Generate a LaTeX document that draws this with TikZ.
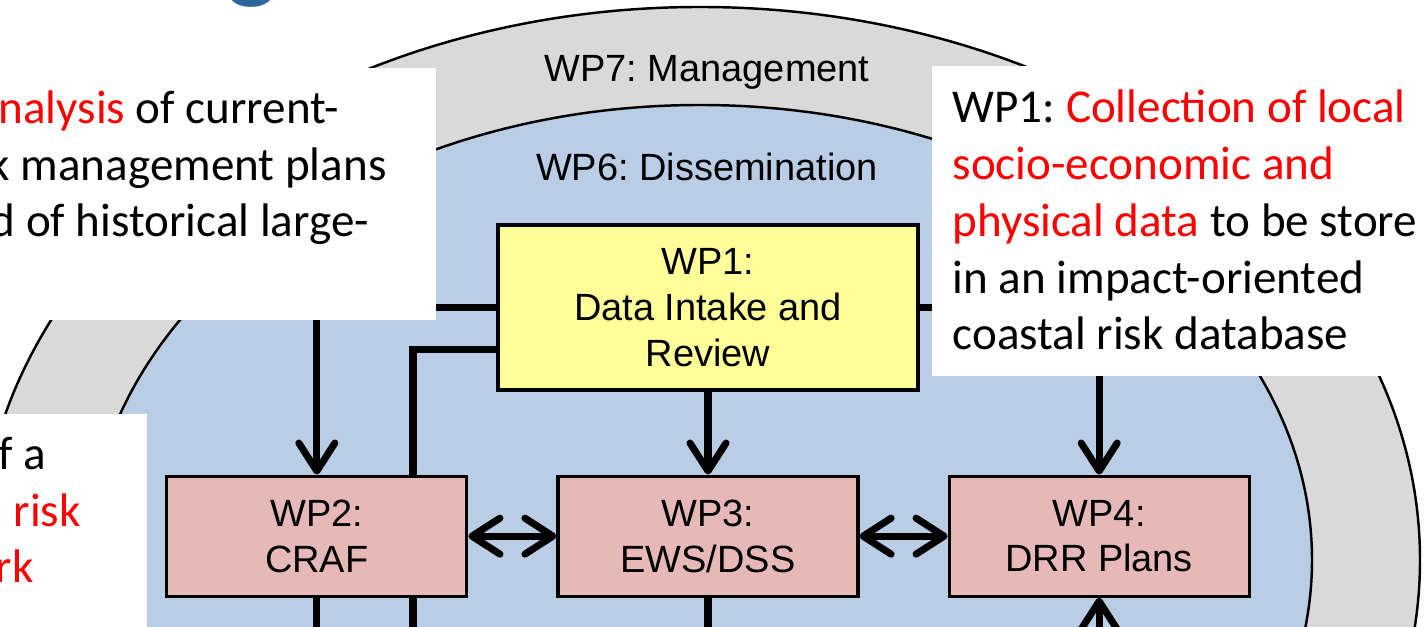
\documentclass[tikz,border=0pt]{standalone}
\usepackage{fontspec}
\setmainfont{Liberation Sans}
\newfontfamily\notefont{Carlito}
\usepackage{xcolor}
\usepackage{tikz}
\usetikzlibrary{arrows.meta, positioning, backgrounds}
\definecolor{ringgray}{RGB}{217,217,217}
\definecolor{ringblue}{RGB}{185,205,229}
\definecolor{intakeyellow}{RGB}{255,255,153}
\definecolor{wppink}{RGB}{230,185,184}
\definecolor{titleblue}{RGB}{47,101,157}
\frenchspacing
\tikzset{
  wpbox/.style={
    draw=black,
    line width=0.9pt,
    fill=wppink,
    align=center,
    inner sep=2pt,
    minimum width=30mm,
    minimum height=12mm,
    font=\fontsize{10.8}{13}\selectfont
  },
  ringlabel/.style={
    anchor=base,
    inner sep=0pt,
    font=\fontsize{10.8}{13}\selectfont
  },
  notebox/.style={
    fill=white,
    inner sep=0pt,
    anchor=north west
  },
  notetext/.style={
    align=left,
    inner sep=0pt,
    anchor=base west,
    font=\notefont\fontsize{13.4}{16.2}\selectfont
  },
  arrow/.style={-{Straight Barb[length=2.8mm, width=3.6mm, round]}, line width=2pt},
  twoway/.style={{Straight Barb[length=2.8mm, width=3.6mm, round]}-{Straight Barb[length=2.8mm, width=3.6mm, round]}, line width=2pt},
  link/.style={line width=2pt}
}

\begin{document}
\begin{tikzpicture}[node distance=8.3mm and 8.8mm]
\useasboundingbox (0,0) rectangle (14.26,6.27);
\clip (0,0) rectangle (14.26,6.27);

\node[wpbox, fill=intakeyellow, minimum width=42mm, minimum height=16.5mm] (wp1) at (7.08,3.195) {WP1:\\Data Intake and\\Review};
\node[wpbox, below=of wp1] (wp3) {WP3:\\EWS/DSS};
\node[wpbox, left=of wp3] (wp2) {WP2:\\CRAF};
\node[wpbox, right=of wp3] (wp4) {WP4:\\DRR Plans};

\coordinate (bypass) at (4.13,-0.3);
\coordinate[below=5mm of wp2] (craf-out);
\coordinate[below=5mm of wp3] (ews-out);
\coordinate[below=5mm of wp4] (drr-in);

\begin{scope}[on background layer]
% WP7 / WP6 rings
\draw[fill=ringgray, line width=0.7pt] (7.00,0.67) ellipse [x radius=7.20, y radius=5.53];
\draw[fill=ringblue, line width=0.7pt] (7.00,0.67) ellipse [x radius=6.12, y radius=4.55];

\draw[arrow] (wp1.west) -| (wp2.north);
\draw[link] ([yshift=-4.2mm]wp1.west) -| (bypass);
\draw[arrow] (wp1.east) -| (wp4.north);
\draw[arrow] (wp1) -- (wp3);

\draw[twoway] (wp2) -- (wp3);
\draw[twoway] (wp3) -- (wp4);

\draw[link] (wp2.south) -- (craf-out);
\draw[link] (wp3.south) -- (ews-out);
\draw[arrow] (drr-in) -- (wp4.south);
\end{scope}

\node[ringlabel] (wp7) at (7.07,5.45) {WP7: Management};
\node[ringlabel] (wp6) at (7.07,4.46) {WP6: Dissemination};

% notes laid over the diagram
\node[notebox, minimum width=44.5mm, minimum height=25.2mm] (notea) at (-0.1,5.60) {};
\node[notetext] (notea-text) at (0,3.90)
  {\hspace*{-0.02cm}\textcolor{red}{nalysis} of current-\\
   \hspace*{-0.12cm}k management plans\\
   \hspace*{-0.10cm}d of historical large-};

\node[notebox, minimum width=15.6mm, minimum height=23mm] (noteb) at (-0.1,2.14) {};
\node[notetext] (noteb-text) at (0,0.44)
  {\hspace*{-0.02cm}f a\\
   \hspace*{0.13cm}\textcolor{red}{risk}\\
   \hspace*{-0.05cm}\textcolor{red}{rk}};

\node[notebox, minimum width=52mm, minimum height=31mm] (notec) at (9.31,5.62) {};
\node[notetext] (notec-text) at (9.52,2.77)
  {WP1: \textcolor{red}{Collection of local}\\
   \textcolor{red}{socio-economic and}\\
   \textcolor{red}{physical data} to be store\\
   in an impact-oriented\\
   coastal risk database};

\node[anchor=base, inner sep=0pt, text=titleblue, font=\notefont\bfseries\fontsize{30}{30}\selectfont] (titleg) at (2.52,6.37) {g};
\end{tikzpicture}
\end{document}
